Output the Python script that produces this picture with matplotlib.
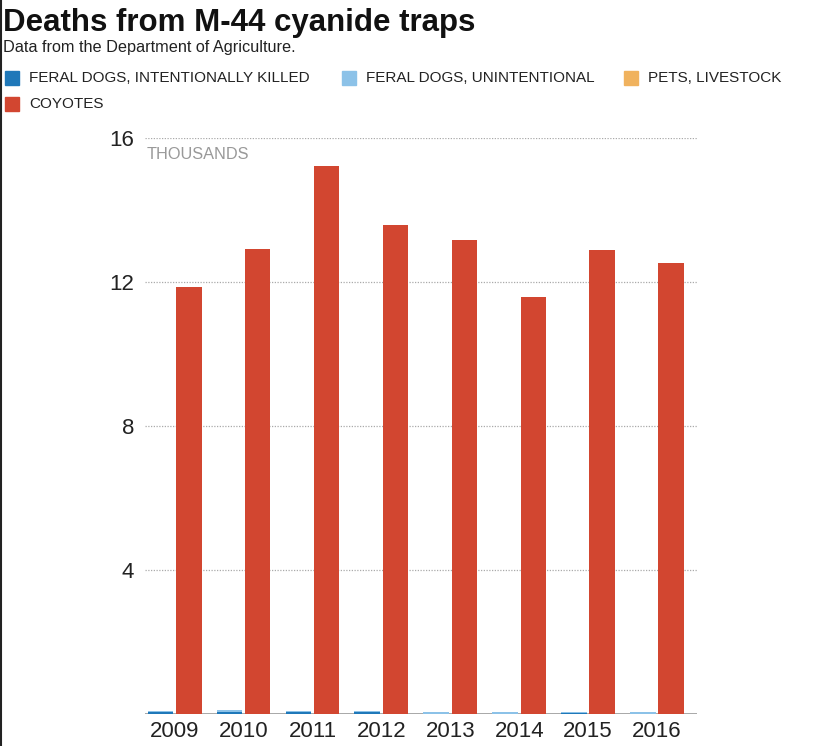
import matplotlib
matplotlib.use("Agg")
import matplotlib.pyplot as plt
from matplotlib.patches import Rectangle
from matplotlib.lines import Line2D
import numpy as np

years = ["2009", "2010", "2011", "2012", "2013", "2014", "2015", "2016"]
# values in thousands
dogs_intentional = [0.045, 0.065, 0.055, 0.055, 0.012, 0.012, 0.035, 0.012]
dogs_unintentional = [0.025, 0.035, 0.025, 0.020, 0.040, 0.030, 0.015, 0.030]
pets_livestock = [0.002, 0.002, 0.002, 0.002, 0.002, 0.002, 0.002, 0.002]
coyotes = [11.86, 12.92, 15.22, 13.58, 13.17, 11.58, 12.89, 12.53]

series_names = ["FERAL DOGS, INTENTIONALLY KILLED", "FERAL DOGS, UNINTENTIONAL",
                "PETS, LIVESTOCK", "COYOTES"]
colors = ["#1f78b9", "#8cc2e8", "#f0b25e", "#d24630"]
yticks = [4, 8, 12, 16]

plt.rcParams['font.family'] = ['Liberation Sans', 'DejaVu Sans']

W, H = 822, 746
fig = plt.figure(figsize=(W / 100, H / 100), dpi=100)

def fx(px):
    return px / W

def fy(py):
    return 1 - py / H

ax = fig.add_axes([fx(145), fy(714), fx(697) - fx(145), fy(138) - fy(714)])
x = np.arange(len(years))
bw = 0.37
off = 0.205
b1 = np.array(dogs_intentional)
b2 = np.array(dogs_unintentional)
b3 = np.array(pets_livestock)
ax.bar(x - off, b1, bw, color=colors[0], zorder=3)
ax.bar(x - off, b2, bw, bottom=b1, color=colors[1], zorder=3)
ax.bar(x - off, b3, bw, bottom=b1 + b2, color=colors[2], zorder=3)
ax.bar(x + off, coyotes, bw, color=colors[3], zorder=3)

ax.set_xlim(-0.43, 7.58)
ax.set_ylim(0, 16)
for s in ax.spines.values():
    s.set_visible(False)
ax.axhline(0, color="#999999", lw=1.2, zorder=2)
for t in yticks:
    ax.axhline(t, color="#aaaaaa", lw=0.9, ls=(0, (1, 1.2)), zorder=1)
ax.set_yticks(yticks)
ax.set_yticklabels([str(t) for t in yticks], fontsize=16, color="#222222")
ax.tick_params(axis="y", length=0, pad=8)
ax.set_xticks(x)
ax.set_xticklabels(years, fontsize=16, color="#222222")
ax.tick_params(axis="x", length=0, pad=5)

ax.text(0.003, 0.985, "THOUSANDS", transform=ax.transAxes, fontsize=11.8,
        color="#999999", va="top", ha="left")

# Title and subtitle
fig.text(fx(3), fy(31), "Deaths from M-44 cyanide traps", fontsize=22.5,
         fontweight="bold", color="#111111", ha="left", va="baseline")
fig.text(fx(3), fy(52), "Data from the Department of Agriculture.", fontsize=11.7,
         color="#222222", ha="left", va="baseline")

# Legend
legend_items = [(5, 78, 0), (342, 78, 1), (624, 78, 2), (5, 104, 3)]
for lx, ly, i in legend_items:
    fig.patches.append(Rectangle((fx(lx), fy(ly + 7)), fx(14), 14 / H,
                                 transform=fig.transFigure, color=colors[i]))
    fig.text(fx(lx + 24), fy(ly), series_names[i], fontsize=11.0, color="#222222",
             ha="left", va="center")

# left border line
fig.add_artist(Line2D([0.0008, 0.0008], [0, 1], transform=fig.transFigure,
                      color="#222222", lw=1.5))

fig.savefig("out.png", dpi=100)
